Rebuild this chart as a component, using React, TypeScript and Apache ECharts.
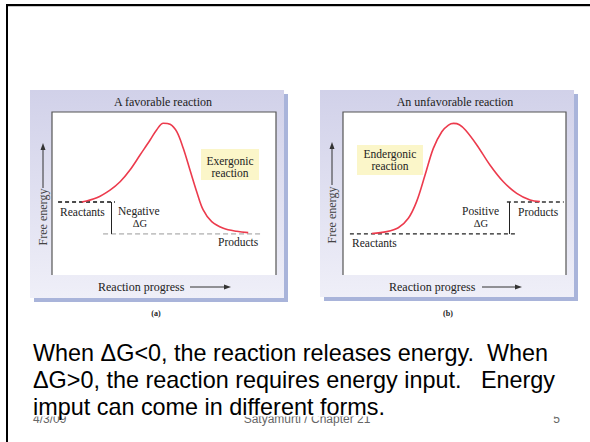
import React, { useEffect, useRef } from "react";
import * as echarts from "echarts";

// Panel (a): favorable (exergonic) reaction — reaction progress (0-100) vs free energy (0-100)
const progressA = [13.3, 20.0, 25.9, 30.4, 34.8, 39.3, 43.8, 46.7, 49.7, 52.7, 55.7, 58.6, 61.6, 64.6, 67.5, 71.3, 76.5, 82.5, 87.6];
const energyA = [44.8, 47.4, 52.1, 57.2, 64.4, 73.6, 82.8, 89.0, 93.1, 92.5, 87.9, 77.7, 64.4, 51.1, 39.9, 32.7, 28.7, 26.8, 26.0];
const reactantsA = { level: 44.8, from: 2.7, to: 28.1 };
const productsA = { level: 25.2, from: 22.8, to: 94.2 };
const deltaA = { at: 26.3 };

// Panel (b): unfavorable (endergonic) reaction
const progressB = [12.9, 19.6, 24.8, 29.3, 33.0, 36.8, 40.5, 44.3, 47.3, 49.6, 52.2, 55.0, 60.0, 65.9, 71.9, 77.9, 83.9, 88.3];
const energyB = [25.5, 26.6, 29.0, 34.8, 45.0, 61.3, 77.7, 87.9, 92.0, 93.0, 92.2, 88.8, 79.8, 67.5, 57.2, 50.1, 46.0, 45.0];
const reactantsB = { level: 25.2, from: 3.1, to: 78.0 };
const productsB = { level: 44.8, from: 73.5, to: 99.0 };
const deltaB = { at: 74.4 };

const titles = ["A favorable reaction", "An unfavorable reaction"];
const captions = ["(a)", "(b)"];
const bodyLines = [
  "When \u0394G<0, the reaction releases energy.  When",
  "\u0394G>0, the reaction requires energy input.   Energy",
  "imput can come in different forms.",
];
const footer = ["4/3/09", "Satyamurti / Chapter 21", "5"];

const SERIF = '"Liberation Serif", "Times New Roman", serif';
const SANS = '"Liberation Sans", Arial, sans-serif';
const CURVE = "#ec3b4d";

function pts(xs: number[], ys: number[]) {
  return xs.map((x, i) => [x, ys[i]]);
}

function txt(x: number, y: number, text: string, o: any = {}) {
  const align = o.align || "center";
  return {
    type: "text",
    x,
    y,
    z: 20,
    rotation: o.rotation || 0,
    style: {
      text,
      fill: o.fill || "#222",
      fontSize: o.size || 12,
      fontFamily: o.family || SERIF,
      fontWeight: o.weight || "normal",
      align,
      textAlign: align,
      verticalAlign: "middle",
      textVerticalAlign: "middle",
    },
  };
}

function line(x1: number, y1: number, x2: number, y2: number, stroke = "#333", w = 1, z = 20) {
  return { type: "line", z, shape: { x1, y1, x2, y2 }, style: { stroke, lineWidth: w } };
}

function poly(points: number[][], fill = "#333", z = 20) {
  return { type: "polygon", z, shape: { points }, style: { fill } };
}

function panel(bx: number, by: number, bw: number, bh: number, px: number, py: number, pw: number, ph: number) {
  return [
    { type: "rect", z: 1, shape: { x: bx + 4, y: by + 4, width: bw, height: bh }, style: { fill: "#a9b4da" } },
    {
      type: "rect",
      z: 1,
      shape: { x: bx, y: by, width: bw, height: bh },
      style: {
        fill: new echarts.graphic.LinearGradient(0, 0, 0, 1, [
          { offset: 0, color: "#d1d1e9" },
          { offset: 1, color: "#efeff8" },
        ]),
      },
    },
    { type: "rect", z: 1, shape: { x: px, y: py, width: pw, height: ph }, style: { fill: "#ffffff" } },
    {
      type: "polyline",
      z: 1,
      shape: { points: [[px, py + ph], [px, py], [px + pw, py], [px + pw, py + ph]] },
      style: { stroke: "#555", lineWidth: 1.2, fill: null },
    },
  ];
}

function dashed(name: string, seg: { level: number; from: number; to: number }, idx: number, color: string, dash: number[], w: number) {
  return {
    type: "line",
    name,
    xAxisIndex: idx,
    yAxisIndex: idx,
    data: [[seg.from, seg.level], [seg.to, seg.level]],
    symbol: "none",
    silent: true,
    lineStyle: { color, width: w, type: dash },
    z: 3,
  };
}

function curve(name: string, data: number[][], idx: number, delta: number, from: number, to: number) {
  return {
    type: "line",
    name,
    xAxisIndex: idx,
    yAxisIndex: idx,
    data,
    smooth: 0.35,
    symbol: "none",
    silent: true,
    lineStyle: { color: CURVE, width: 1.6 },
    z: 4,
    markLine: {
      silent: true,
      symbol: ["none", "arrow"],
      symbolSize: [0, 6],
      label: { show: false },
      lineStyle: { color: "#222", type: "solid", width: 1 },
      data: [[{ coord: [delta, from] }, { coord: [delta, to] }]],
    },
  };
}

export default function App() {
  const ref = useRef<HTMLDivElement>(null);
  useEffect(() => {
    if (!ref.current) return;
    const chart = echarts.init(ref.current, null, { renderer: "svg" });
    const graphic: any[] = [
      // slide frame
      line(6, 5, 590, 5, "#000", 2, 0),
      line(8, 6.5, 590, 6.5, "#c8c8c8", 1, 0),
      line(7, 4, 7, 442, "#000", 2, 0),
      ...panel(30, 90, 254, 208, 52, 112, 224, 163),
      ...panel(320, 90, 254, 207, 343, 112, 223, 163),
      txt(163, 102, titles[0]),
      txt(455, 102, titles[1]),
      // y axis labels with arrows
      txt(43, 217, "Free energy", { rotation: Math.PI / 2, fill: "#444" }),
      line(43, 188, 43, 149, "#333", 1),
      poly([[43, 143], [40.5, 150], [45.5, 150]]),
      txt(332, 215, "Free energy", { rotation: Math.PI / 2, fill: "#444" }),
      line(332, 185, 332, 148, "#333", 1),
      poly([[332, 142], [329.5, 149], [334.5, 149]]),
      // x axis labels with arrows
      txt(98, 287, "Reaction progress", { align: "left" }),
      line(190, 287, 225, 287, "#333", 1),
      poly([[231, 287], [224, 284.5], [224, 289.5]]),
      txt(389, 287, "Reaction progress", { align: "left" }),
      line(482, 287, 516, 287, "#333", 1),
      poly([[522, 287], [515, 284.5], [515, 289.5]]),
      // yellow boxes
      { type: "rect", z: 5, shape: { x: 201, y: 149, width: 58, height: 31 }, style: { fill: "#fbf6c9" } },
      txt(230, 160.5, "Exergonic", { size: 11.5 }),
      txt(230, 172.5, "reaction", { size: 11.5 }),
      { type: "rect", z: 5, shape: { x: 357, y: 145, width: 66, height: 30 }, style: { fill: "#fbf6c9" } },
      txt(390, 154, "Endergonic", { size: 11.5 }),
      txt(390, 166, "reaction", { size: 11.5 }),
      // panel (a) labels
      txt(60, 212, "Reactants", { align: "left", size: 11.5 }),
      txt(118, 211, "Negative", { align: "left", size: 11.5 }),
      txt(140, 223, "\u0394G", { size: 10.5 }),
      txt(218, 242, "Products", { align: "left", size: 11.5 }),
      // panel (b) labels
      txt(352, 243, "Reactants", { align: "left", size: 11.5 }),
      txt(462, 211, "Positive", { align: "left", size: 11.5 }),
      txt(481, 223, "\u0394G", { size: 10.5 }),
      txt(518, 212, "Products", { align: "left", size: 11.5 }),
      // captions
      txt(156, 313, captions[0], { size: 8, weight: "bold" }),
      txt(448, 313, captions[1], { size: 8, weight: "bold" }),
      // footer (partly hidden behind body text box)
      txt(33, 418.5, footer[0], { family: SANS, fill: "#666", align: "left" }),
      txt(307, 418.5, footer[1], { family: SANS, fill: "#666" }),
      txt(560, 418.5, footer[2], { family: SANS, fill: "#666", align: "right" }),
      { type: "rect", z: 30, shape: { x: 9, y: 394, width: 581, height: 22.5 }, style: { fill: "#ffffff" } },
      ...bodyLines.map((t, i) => ({ ...txt(33, 353 + i * 27, t, { family: SANS, size: 23.4, fill: "#000", align: "left" }), z: 40 })),
    ];

    const axisOff = { type: "value", min: 0, max: 100, show: false };
    chart.setOption({
      animation: false,
      grid: [
        { left: 52, top: 112, width: 224, height: 163 },
        { left: 343, top: 112, width: 223, height: 163 },
      ],
      xAxis: [{ ...axisOff, gridIndex: 0 }, { ...axisOff, gridIndex: 1 }],
      yAxis: [{ ...axisOff, gridIndex: 0 }, { ...axisOff, gridIndex: 1 }],
      graphic,
      series: [
        dashed("Reactants (a)", reactantsA, 0, "#111", [4, 3], 1.3),
        dashed("Products (a)", productsA, 0, "#999", [5, 3], 1),
        curve("Exergonic", pts(progressA, energyA), 0, deltaA.at, reactantsA.level, productsA.level),
        dashed("Reactants (b)", reactantsB, 1, "#222", [4, 3], 1.3),
        dashed("Products (b)", productsB, 1, "#333", [4, 3], 1.3),
        curve("Endergonic", pts(progressB, energyB), 1, deltaB.at, reactantsB.level, productsB.level),
      ],
    });
    return () => chart.dispose();
  }, []);
  return <div ref={ref} style={{ position: "fixed", left: 0, top: 0, width: 590, height: 442, background: "#fff" }} />;
}
